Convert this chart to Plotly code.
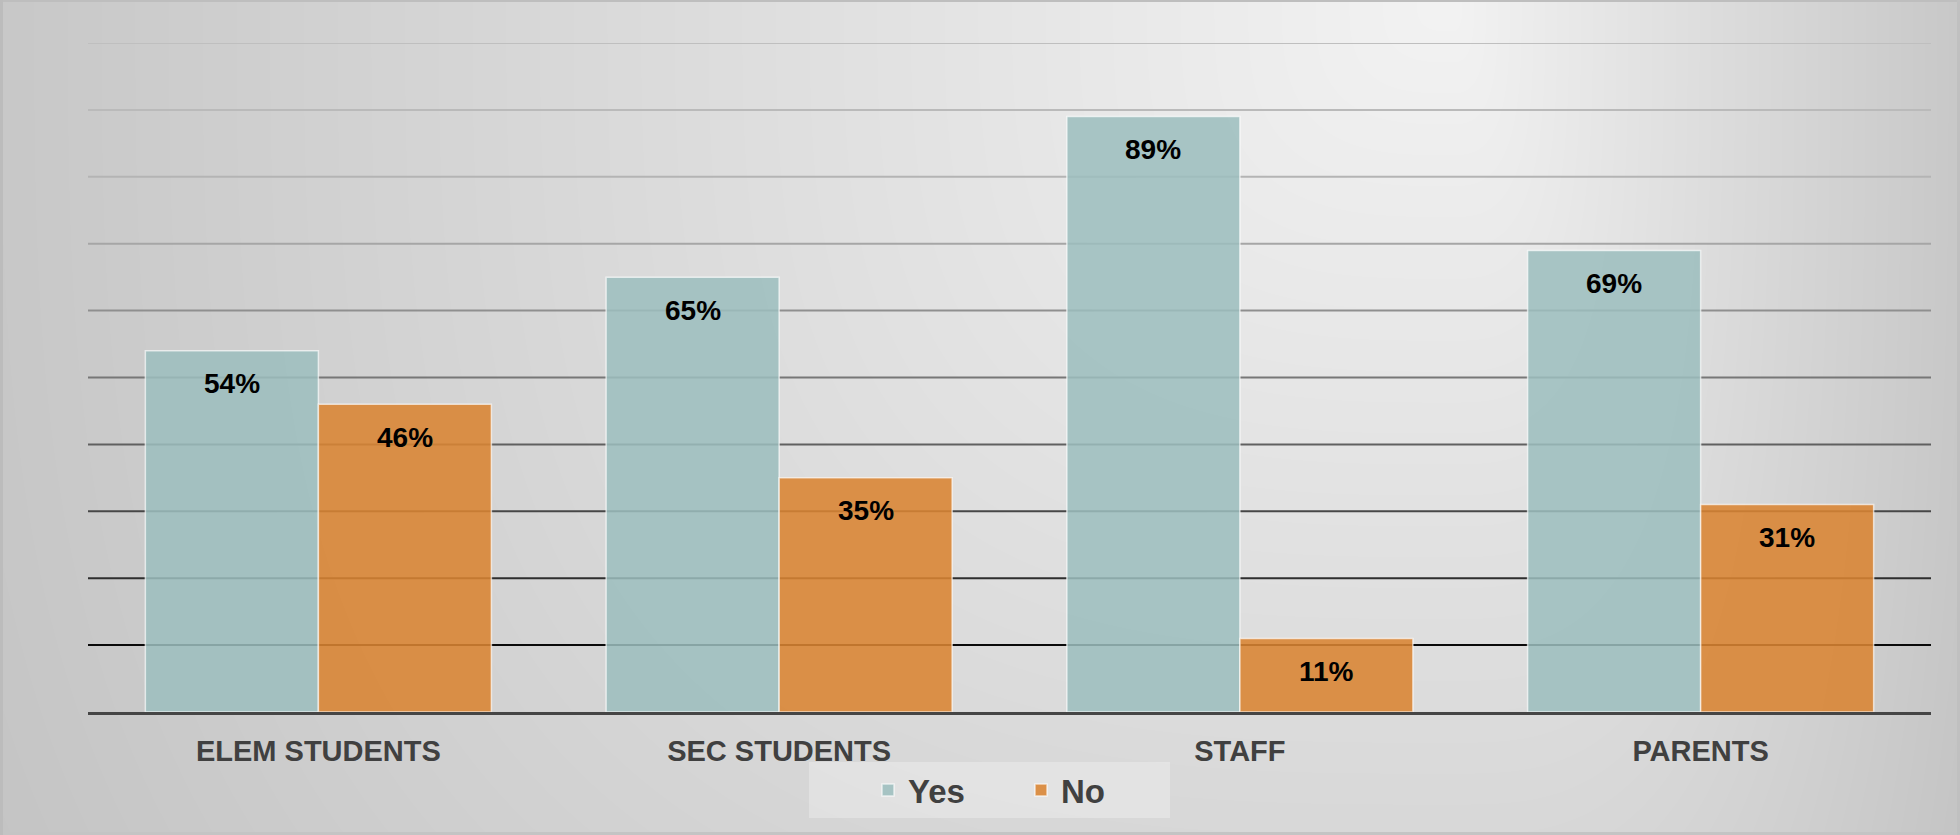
import base64
import struct
import zlib

import numpy as np
import plotly.graph_objects as go

# ---------------- data ----------------
categories = ["ELEM STUDENTS", "SEC STUDENTS", "STAFF", "PARENTS"]
yes_values = [54, 65, 89, 69]
no_values = [46, 35, 11, 31]
series_names = ["Yes", "No"]
grid_levels = [10, 20, 30, 40, 50, 60, 70, 80, 90, 100]

# ---------------- styles ----------------
W, H = 1960, 835
M_L, M_R, M_T, M_B = 88, 29, 43, 123
PW, PH = W - M_L - M_R, H - M_T - M_B
BARGAP = 0.249
YES_COLOR = "rgba(156,190,190,0.86)"
NO_COLOR = "rgba(217,132,50,0.88)"
BAR_EDGE = "rgba(255,255,255,0.65)"
GRID_COLORS = ["#0a0a0a", "#2e2e2e", "#474747", "#606060", "#777777",
               "#8f8f8f", "#a6a6a6", "#b4b4b4", "#bababa", "#bfbfbf"]
FONT = "Liberation Sans, Arial, sans-serif"


def make_background_png():
    X, Y = np.meshgrid(np.arange(W, dtype=float), np.arange(H, dtype=float))
    cx = 1450.0
    fx = np.where(X < cx, (cx - X) / 1450.0, (X - cx) / 510.0)
    fy = Y / 835.0
    d = np.cbrt((43 * fx) ** 3 + (27 * fy) ** 3)
    img = np.clip(243 - d, 192, 255)
    # outer border
    img[:2, :] = 190
    img[-3:, :] = 196
    img[:, :3] = 188
    img[:, -3:] = 192
    img = img.astype(np.uint8)
    raw = b"".join(b"\x00" + img[r].tobytes() for r in range(H))

    def chunk(tag, data):
        c = struct.pack(">I", len(data)) + tag + data
        return c + struct.pack(">I", zlib.crc32(tag + data) & 0xFFFFFFFF)

    png = (b"\x89PNG\r\n\x1a\n"
           + chunk(b"IHDR", struct.pack(">IIBBBBB", W, H, 8, 0, 0, 0, 0))
           + chunk(b"IDAT", zlib.compress(raw, 9))
           + chunk(b"IEND", b""))
    return "data:image/png;base64," + base64.b64encode(png).decode()


def px_x(px):
    return (px - M_L) / PW


def px_y(py):
    return (H - M_B - py) / PH


fig = go.Figure()
fig.add_trace(go.Bar(name=series_names[0], x=categories, y=yes_values,
                     marker=dict(color=YES_COLOR, line=dict(color=BAR_EDGE, width=1.5))))
fig.add_trace(go.Bar(name=series_names[1], x=categories, y=no_values,
                     marker=dict(color=NO_COLOR, line=dict(color=BAR_EDGE, width=1.5))))

# gridlines (gradient from light gray at top to black at bottom)
shapes = []
for lvl, col in zip(grid_levels, GRID_COLORS):
    shapes.append(dict(type="line", xref="paper", yref="y", x0=0, x1=1, y0=lvl, y1=lvl,
                       line=dict(color=col, width=2), layer="below"))
# legend box
shapes.append(dict(type="rect", xref="paper", yref="paper",
                   x0=px_x(809), x1=px_x(1170), y0=px_y(818), y1=px_y(762),
                   fillcolor="rgba(255,255,255,0.28)", line=dict(width=0), layer="below"))

# data labels inside the bar tops
off = (1 - BARGAP) / 4
annotations = []
for i, (yv, nv) in enumerate(zip(yes_values, no_values)):
    for xv, v in ((i - off, yv), (i + off, nv)):
        annotations.append(dict(x=xv, y=v, xref="x", yref="y", text=f"{v}%",
                                showarrow=False, yanchor="middle", yshift=-33,
                                font=dict(family=FONT, size=28, color="#000000", weight="bold")))

fig.update_layout(
    width=W, height=H,
    margin=dict(l=M_L, r=M_R, t=M_T, b=M_B, pad=0),
    paper_bgcolor="rgba(0,0,0,0)",
    plot_bgcolor="rgba(0,0,0,0)",
    barmode="group", bargap=BARGAP, bargroupgap=0,
    shapes=shapes,
    annotations=annotations,
    images=[dict(source=make_background_png(), xref="paper", yref="paper",
                 x=px_x(0), y=px_y(0), sizex=W / PW, sizey=H / PH,
                 xanchor="left", yanchor="top", sizing="stretch", layer="below")],
    legend=dict(orientation="h", x=px_x(868), xanchor="left", y=px_y(790), yanchor="middle",
                bgcolor="rgba(0,0,0,0)", entrywidth=108, entrywidthmode="pixels",
                font=dict(family=FONT, size=33, color="#404040", weight="bold")),
    xaxis=dict(showline=True, linecolor="#454545", linewidth=3, ticks="",
               showgrid=False, zeroline=False, ticklabelstandoff=11,
               tickfont=dict(family=FONT, size=29, color="#404040", weight="bold")),
    yaxis=dict(range=[0, 100], showgrid=False, zeroline=False, showticklabels=False,
               ticks=""),
)

fig.write_html("out.html", config={"displayModeBar": False},
               post_script="document.body.style.margin='0';document.body.style.overflow='hidden';")
